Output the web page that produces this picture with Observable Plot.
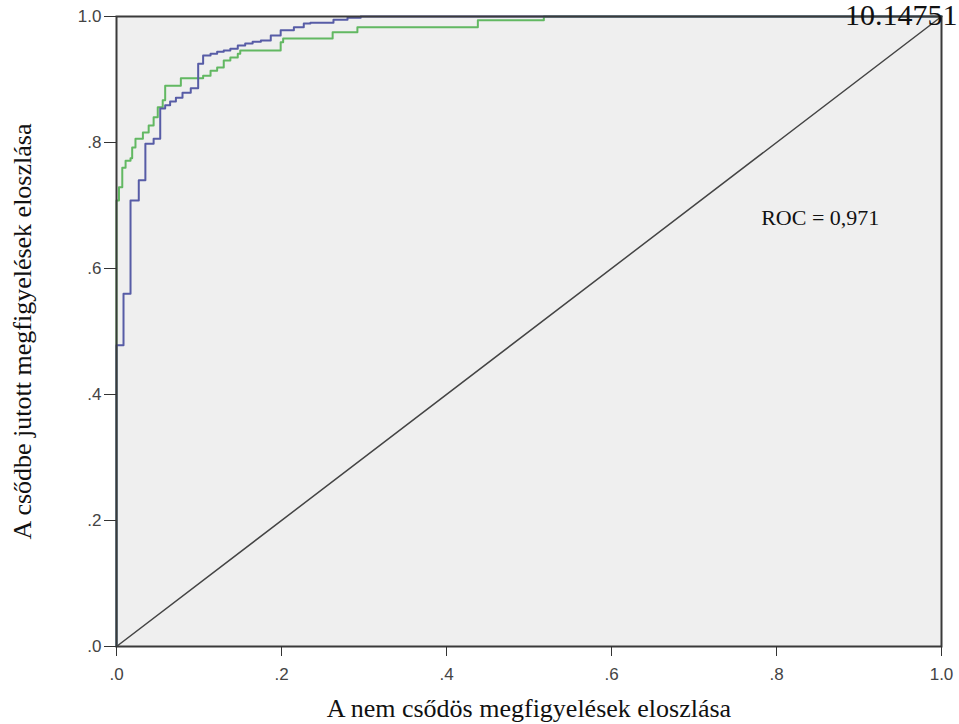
<!DOCTYPE html>
<html><head><meta charset="utf-8">
<script src="https://cdn.jsdelivr.net/npm/d3@7"></script>
<script src="https://cdn.jsdelivr.net/npm/@observablehq/plot@0.6"></script>
<style>body{margin:0;background:#fff}</style>
</head><body><div id="chart"></div>
<script>
// ROC curve 1 (blue): false positive rate / true positive rate at each step
const blueFpr = [0, 0, 0.0085, 0.017, 0.027, 0.035, 0.045, 0.053, 0.059, 0.065, 0.072, 0.080, 0.090, 0.099, 0.105, 0.114, 0.122, 0.130, 0.138, 0.147, 0.156, 0.165, 0.175, 0.187, 0.199, 0.215, 0.227, 0.235, 0.263, 0.280, 0.296, 1.0];
const blueTpr = [0, 0.478, 0.560, 0.708, 0.740, 0.798, 0.806, 0.854, 0.859, 0.865, 0.871, 0.879, 0.886, 0.925, 0.938, 0.941, 0.944, 0.946, 0.949, 0.954, 0.957, 0.960, 0.962, 0.970, 0.978, 0.983, 0.989, 0.990, 0.995, 0.998, 1.0, 1.0];
// ROC curve 2 (green)
const greenFpr = [0, 0, 0.003, 0.007, 0.011, 0.017, 0.019, 0.023, 0.032, 0.039, 0.045, 0.050, 0.056, 0.059, 0.078, 0.105, 0.114, 0.122, 0.130, 0.138, 0.147, 0.150, 0.199, 0.202, 0.262, 0.292, 0.438, 0.518, 1.0];
const greenTpr = [0, 0.708, 0.729, 0.760, 0.771, 0.775, 0.792, 0.806, 0.816, 0.827, 0.840, 0.856, 0.867, 0.890, 0.902, 0.906, 0.914, 0.919, 0.930, 0.935, 0.941, 0.946, 0.959, 0.965, 0.975, 0.983, 0.994, 1.0, 1.0];
// reference diagonal
const diagX = [0, 1];
const diagY = [0, 1];
// ticks
const tickValues = [0, 0.2, 0.4, 0.6, 0.8, 1.0];
const tickLabels = [".0", ".2", ".4", ".6", ".8", "1.0"];
// texts
const xTitle = "A nem csődös megfigyelések eloszlása";
const yTitle = "A csődbe jutott megfigyelések eloszlása";
const rocLabel = "ROC = 0,971";
const cornerLabel = "10.14751";

const rows = (xs, ys) => xs.map((x, i) => ({x, y: ys[i]}));
const fmt = d => tickLabels[tickValues.indexOf(d)];
const serif = "'Liberation Serif', 'Times New Roman', serif";

const chart = Plot.plot({
  width: 959,
  height: 724,
  marginLeft: 116,
  marginRight: 18,
  marginTop: 16,
  marginBottom: 78,
  x: {domain: [0, 1]},
  y: {domain: [0, 1]},
  style: {fontFamily: "'Liberation Sans', Arial, sans-serif", background: "#fff", overflow: "visible"},
  marks: [
    Plot.frame({fill: "#efefef", stroke: null}),
    Plot.line(rows(diagX, diagY), {x: "x", y: "y", stroke: "#444", strokeWidth: 1.5}),
    Plot.line(rows(greenFpr, greenTpr), {x: "x", y: "y", curve: "step-after", stroke: "#62b862", strokeWidth: 2}),
    Plot.line(rows(blueFpr, blueTpr), {x: "x", y: "y", curve: "step-after", stroke: "#575ca6", strokeWidth: 2}),
    Plot.frame({stroke: "#3a3a3a", strokeWidth: 2}),
    Plot.axisX({ticks: tickValues, tickFormat: fmt, tickSize: 10, tickPadding: 11, fontSize: 17, fill: "#444", stroke: "#333", label: null}),
    Plot.axisY({ticks: tickValues, tickFormat: fmt, tickSize: 12, tickPadding: 3, fontSize: 17, fill: "#444", stroke: "#333", label: null}),
    Plot.text([xTitle], {frameAnchor: "bottom", dy: 62, text: d => d, fontSize: 26, fontFamily: serif, fill: "#111", textAnchor: "middle", lineAnchor: "middle"}),
    Plot.text([yTitle], {frameAnchor: "left", dx: -94, rotate: -90, text: d => d, fontSize: 26, fontFamily: serif, fill: "#111", textAnchor: "middle", lineAnchor: "middle"}),
    Plot.text([rocLabel], {x: 0.853, y: 0.68, text: d => d, fontSize: 22, fontFamily: serif, fill: "#111"}),
    Plot.text([cornerLabel], {frameAnchor: "top-right", dx: 16, dy: -1, textAnchor: "end", lineAnchor: "middle", text: d => d, fontSize: 30, fontFamily: serif, fill: "#111"})
  ]
});
document.getElementById("chart").append(chart);
</script>
</body></html>
